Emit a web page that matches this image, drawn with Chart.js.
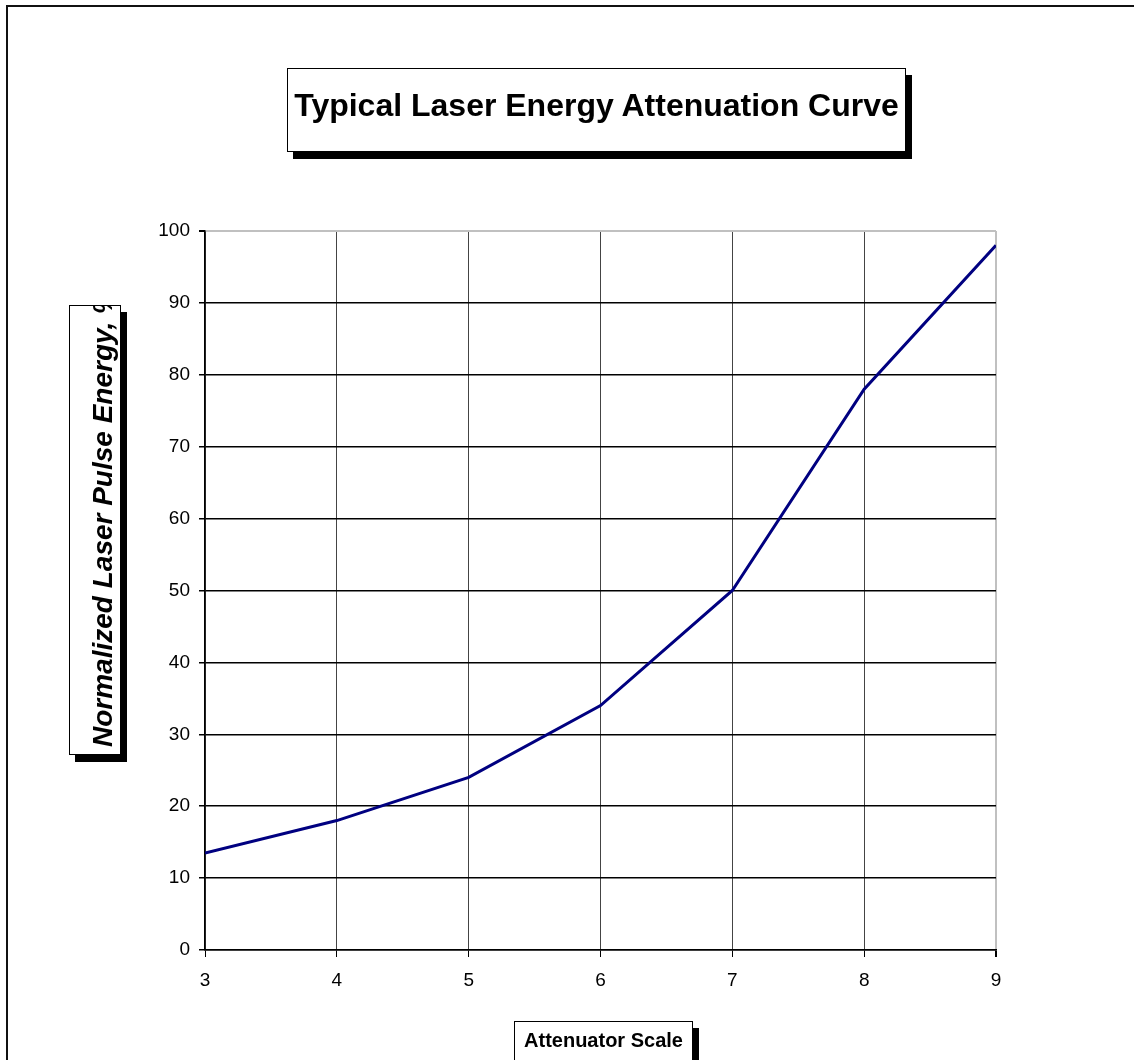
<!DOCTYPE html>
<html>
<head>
<meta charset="utf-8">
<script src="https://cdn.jsdelivr.net/npm/chart.js@4"></script>
<style>
  html, body { margin: 0; padding: 0; background: #fff; overflow: hidden; }
  body { width: 1134px; height: 1060px; position: relative; font-family: "Liberation Sans", Arial, sans-serif; }
  #frame { position: absolute; left: 6px; top: 5px; width: 1200px; height: 1200px; border: 2px solid #111; box-sizing: border-box; }
  #chart { position: absolute; left: 0; top: 0; }
  .tbox { position: absolute; background: #fff; border: 1px solid #000; box-shadow: 6px 7px 0 #000; box-sizing: border-box; white-space: nowrap; color: #000; }
  #title { left: 287px; top: 68px; width: 619px; height: 84px; font-weight: bold; font-size: 32px; line-height: 32px; text-align: center; padding-top: 20px; }
  #ytitle { left: 69px; top: 305px; width: 52px; height: 450px; overflow: hidden; }
  #ytitle span { position: absolute; left: 0; top: 0; font-weight: bold; font-style: italic; font-size: 28px; line-height: 28px; transform-origin: 0 0; transform: translate(19px, 441px) rotate(-90deg); }
  #xtitle { left: 514px; top: 1021px; width: 179px; height: 80px; font-weight: bold; font-size: 20px; line-height: 20px; text-align: center; padding-top: 8px; }
</style>
</head>
<body>
<div id="frame"></div>
<canvas id="chart" width="1134" height="1060"></canvas>
<div class="tbox" id="title">Typical Laser Energy Attenuation Curve</div>
<div class="tbox" id="ytitle"><span>Normalized Laser Pulse Energy, %</span></div>
<div class="tbox" id="xtitle">Attenuator Scale</div>
<script>
const scaleSteps = [3, 4, 5, 6, 7, 8, 9];
const energyPercent = [13.5, 18, 24, 34, 50, 78, 98];
const yTicks = [0, 10, 20, 30, 40, 50, 60, 70, 80, 90, 100];

const points = scaleSteps.map((x, i) => ({ x: x, y: energyPercent[i] }));
const tickFont = { family: "Liberation Sans, Arial, sans-serif", size: 19 };

new Chart(document.getElementById("chart"), {
  type: "line",
  data: {
    datasets: [{
      data: points,
      borderColor: "#000080",
      borderWidth: 3,
      pointRadius: 0,
      tension: 0,
      fill: false
    }]
  },
  options: {
    responsive: false,
    animation: false,
    devicePixelRatio: 1,
    layout: { padding: { left: 0, top: 231, right: 138, bottom: 0 } },
    plugins: { legend: { display: false }, tooltip: { enabled: false } },
    scales: {
      x: {
        type: "linear",
        min: scaleSteps[0],
        max: scaleSteps[scaleSteps.length - 1],
        afterBuildTicks: s => { s.ticks = scaleSteps.map(v => ({ value: v })); },
        afterFit: s => { s.height = 110; },
        ticks: { color: "#000", font: tickFont, padding: 12 },
        grid: {
          color: c => (c.tick && c.tick.value === 9) ? "#c0c0c0" : "#444",
          lineWidth: c => (c.tick && c.tick.value === 9) ? 2 : 1,
          tickColor: "#000",
          tickLength: 7
        },
        border: { color: "#000", width: 1.5 }
      },
      y: {
        min: 0,
        max: 100,
        afterBuildTicks: s => { s.ticks = yTicks.map(v => ({ value: v })); },
        afterFit: s => { s.width = 205; },
        ticks: { color: "#000", font: tickFont, padding: 9 },
        grid: {
          color: c => (c.tick && c.tick.value === 100) ? "#c0c0c0" : "#000",
          lineWidth: c => (c.tick && c.tick.value === 100) ? 2 : 1.5,
          tickColor: "#000",
          tickLength: 6
        },
        border: { color: "#000", width: 1.5 }
      }
    }
  }
});
</script>
</body>
</html>
